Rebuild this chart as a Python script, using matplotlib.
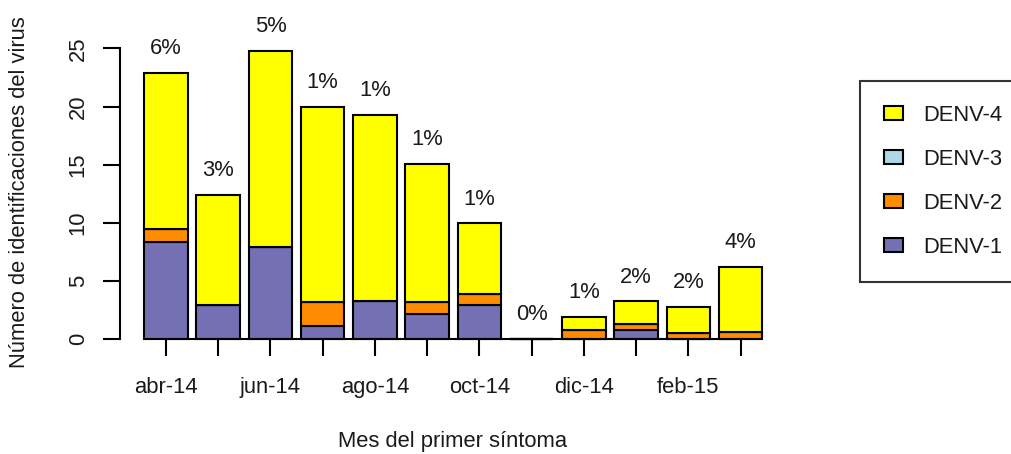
import matplotlib
matplotlib.use('Agg')
import matplotlib.pyplot as plt
import numpy as np
from matplotlib.patches import Patch

plt.rcParams['font.family'] = ['Liberation Sans', 'DejaVu Sans']

months = ['abr-14', 'may-14', 'jun-14', 'jul-14', 'ago-14', 'sep-14',
          'oct-14', 'nov-14', 'dic-14', 'ene-15', 'feb-15', 'mar-15']
denv1 = [8.4, 2.95, 7.9, 1.15, 3.25, 2.2, 2.95, 0, 0, 0.8, 0, 0]
denv2 = [1.05, 0, 0, 2.05, 0, 1.0, 0.95, 0, 0.8, 0.55, 0.5, 0.65]
denv3 = [0, 0, 0, 0, 0, 0, 0, 0, 0, 0, 0, 0]
denv4 = [13.45, 9.45, 16.85, 16.75, 16.0, 11.9, 6.05, 0, 1.1, 1.9, 2.25, 5.55]
pct_labels = ['6%', '3%', '5%', '1%', '1%', '1%', '1%', '0%', '1%', '2%', '2%', '4%']
series_names = ['DENV-1', 'DENV-2', 'DENV-3', 'DENV-4']
colors = ['#7570B3', '#FF8C00', '#ADD8E6', '#FFFF00']

FS = 15.8
TXT = '#1a1a1a'
fig = plt.figure(figsize=(10.11, 4.54), dpi=100)
ax = fig.add_axes([0.1182, 0.2526, 0.6604, 0.6615])

x = np.arange(len(months))
bottom = np.zeros(len(months))
for vals, col in zip([denv1, denv2, denv3, denv4], colors):
    v = np.array(vals, dtype=float)
    ax.bar(x, v, width=0.833, bottom=bottom, color=col, edgecolor='black',
           linewidth=1.5, clip_on=False)
    bottom += v

for xi, tot, lab in zip(x, bottom, pct_labels):
    ax.text(xi, tot + 2.1, lab, ha='center', va='center', fontsize=FS,
            color=TXT, clip_on=False)

ax.set_xlim(-0.89, 11.89)
ax.set_ylim(0, 25.8)
for s in ['top', 'right']:
    ax.spines[s].set_visible(False)
ax.spines['left'].set_bounds(0, 25)
ax.spines['bottom'].set_bounds(0, 11)
for s in ['left', 'bottom']:
    ax.spines[s].set_linewidth(1.5)

ax.set_yticks(range(0, 30, 5))
ax.tick_params(axis='y', length=12.2, width=1.5, pad=10, labelsize=FS,
               labelrotation=90, labelcolor=TXT)
for t in ax.get_yticklabels():
    t.set_va('center')
ax.set_xticks(x)
ax.set_xticklabels([m if i % 2 == 0 else '' for i, m in enumerate(months)])
ax.tick_params(axis='x', length=12.2, width=1.5, pad=15, labelsize=FS,
               labelcolor=TXT)

fig.text(20 / 1011, 1 - 192 / 454, 'Número de identificaciones del virus',
         rotation=90, ha='center', va='center', fontsize=FS, color=TXT)
fig.text(453 / 1011, 1 - 442 / 454, 'Mes del primer síntoma',
         ha='center', va='center', fontsize=FS, color=TXT)

handles = [Patch(facecolor=c, edgecolor='black', linewidth=1.5, label=n)
           for n, c in zip(series_names, colors)][::-1]
leg = fig.legend(handles=handles, loc='upper left',
                 bbox_to_anchor=(860 / 1011, 1 - 80.7 / 454), fontsize=FS,
                 frameon=True, fancybox=False, edgecolor='black',
                 borderpad=1.1, handlelength=0.86, handleheight=0.6,
                 handletextpad=0.9, labelspacing=1.05, borderaxespad=0)
leg.get_frame().set_linewidth(1.5)
for t in leg.get_texts():
    t.set_color(TXT)

fig.savefig('out.png', dpi=100)
